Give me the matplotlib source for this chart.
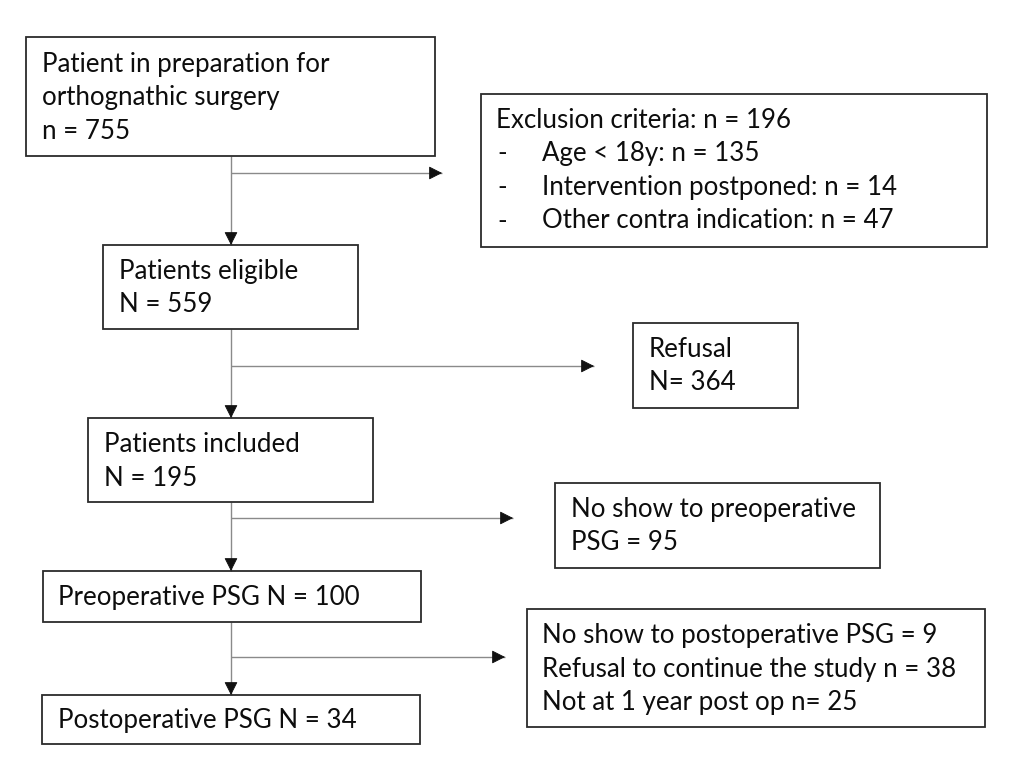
import matplotlib
matplotlib.use("Agg")
import matplotlib.pyplot as plt
from matplotlib.patches import Rectangle, FancyArrowPatch

# ---- content ----
main_labels = [
    ["Patient in preparation for", "orthognathic surgery", "n = 755"],
    ["Patients eligible", "N = 559"],
    ["Patients included", "N = 195"],
    ["Preoperative PSG N = 100"],
    ["Postoperative PSG N = 34"],
]
side_labels = [
    ["Exclusion criteria: n = 196"],
    ["Refusal", "N= 364"],
    ["No show to preoperative", "PSG = 95"],
    ["No show to postoperative PSG = 9",
     "Refusal to continue the study n = 38",
     "Not at 1 year post op n= 25"],
]
exclusion_items = ["Age < 18y: n = 135",
                   "Intervention postponed: n = 14",
                   "Other contra indication: n = 47"]

# ---- layout (pixel coordinates, y downward) ----
main_boxes = [(26, 37, 435, 156), (103, 245, 358, 329), (88, 418, 373, 502),
              (43, 571, 421, 622), (42, 695, 420, 744)]
main_text_x = [42, 119, 104, 58, 58]
main_text_y0 = [72, 279, 452, 605, 728]
side_boxes = [(481, 94, 987, 247), (633, 323, 798, 408), (555, 483, 880, 568),
              (527, 609, 985, 727)]
side_text_x = [496, 649, 571, 542]
side_text_y0 = [128, 357, 517, 643]
line_gap = 33.5
branch_y = [173, 366, 518, 657]
branch_tip = [442, 594, 513, 505]
trunk_x = 231

FONT = ["Lato", "DejaVu Sans"]
BOX_COL = "#2b2b2b"
LINE_COL = "#8a8a8a"

fig = plt.figure(figsize=(10.14, 7.6), dpi=100)
ax = fig.add_axes([0, 0, 1, 1])
ax.set_xlim(0, 1014)
ax.set_ylim(760, 0)
ax.axis("off")

# fit font size so that reference line width matches (~296 px)
probe = ax.text(0, 0, side_labels[0][0], fontsize=16, family=FONT)
fig.canvas.draw()
w = probe.get_window_extent(renderer=fig.canvas.get_renderer()).width
fs = 16 * 296.0 / w
probe.remove()


def draw_box(b):
    x0, y0, x1, y1 = b
    ax.add_patch(Rectangle((x0, y0), x1 - x0, y1 - y0, fill=False,
                           edgecolor=BOX_COL, linewidth=1.3, zorder=3))


def draw_lines(lines, x, y0):
    for i, s in enumerate(lines):
        ax.text(x, y0 + i * line_gap, s, fontsize=fs, family=FONT,
                ha="left", va="baseline", color="#0d0d0d", zorder=4)


def arrow(x0, y0, x1, y1):
    ax.plot([x0, x1], [y0, y1], color=LINE_COL, linewidth=1.0, zorder=2,
            solid_capstyle="butt")
    dx = x1 - x0
    dy = y1 - y0
    L = (dx ** 2 + dy ** 2) ** 0.5
    ux, uy = dx / L, dy / L
    hl = 10
    p = FancyArrowPatch((x1 - ux * hl, y1 - uy * hl), (x1, y1),
                        arrowstyle="-|>,head_length=0.75,head_width=0.38",
                        mutation_scale=11, color="#111111", linewidth=0.6,
                        shrinkA=0, shrinkB=0, zorder=3)
    ax.add_patch(p)


for b, lines, tx, ty in zip(main_boxes, main_labels, main_text_x, main_text_y0):
    draw_box(b)
    draw_lines(lines, tx, ty)

for b, lines, tx, ty in zip(side_boxes, side_labels, side_text_x, side_text_y0):
    draw_box(b)
    draw_lines(lines, tx, ty)

# exclusion list items with dashes
for i, s in enumerate(exclusion_items):
    y = side_text_y0[0] + (i + 1) * line_gap
    ax.text(497, y, "-", fontsize=fs, family=FONT, ha="left", va="baseline",
            color="#0d0d0d")
    ax.text(542, y, s, fontsize=fs, family=FONT, ha="left", va="baseline",
            color="#0d0d0d")

# vertical arrows between main boxes, branches to side boxes
for i in range(4):
    top = main_boxes[i][3]
    bottom = main_boxes[i + 1][1]
    arrow(trunk_x, top, trunk_x, bottom)
    arrow(trunk_x, branch_y[i], branch_tip[i], branch_y[i])

fig.savefig("out.png", dpi=100, facecolor="white")
